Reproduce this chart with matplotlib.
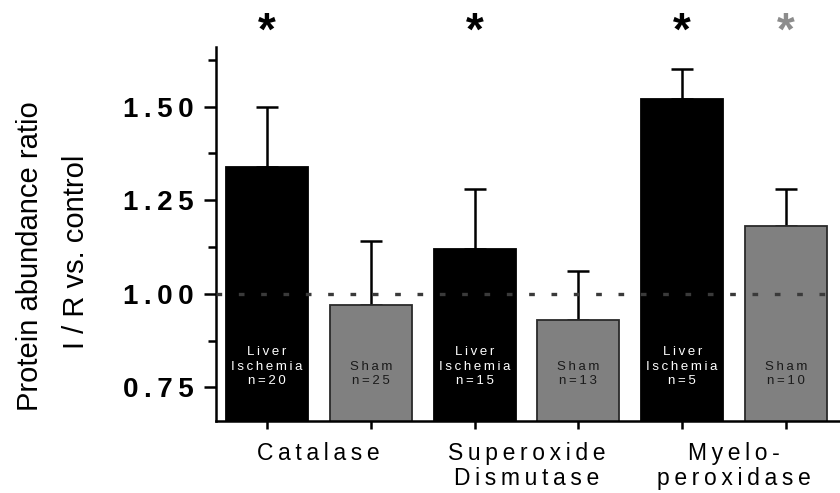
import numpy as np
import matplotlib.pyplot as plt

plt.rcParams['font.family'] = ['Liberation Sans', 'DejaVu Sans']

# bar order: Catalase LI, Catalase Sham, SOD LI, SOD Sham, MPO LI, MPO Sham
groups = ['Catalase', 'Superoxide\nDismutase', 'Myelo-\nperoxidase']
means = [1.34, 0.97, 1.12, 0.93, 1.52, 1.18]
sems = [0.16, 0.17, 0.16, 0.13, 0.08, 0.10]
bar_labels = ['Liver\nIschemia\nn=20', 'Sham\nn=25',
              'Liver\nIschemia\nn=15', 'Sham\nn=13',
              'Liver\nIschemia\nn=5', 'Sham\nn=10']
star_shown = [True, False, True, False, True, True]

TS = '\u2009'  # thin space for letter spacing


def spaced(s):
    return '\n'.join(TS.join(line) for line in s.split('\n'))


fig = plt.figure(figsize=(8.4, 4.93), dpi=100)
ax = fig.add_axes([0.257, 0.146, 0.743, 0.759])

x = np.arange(len(means))
colors = ['black' if i % 2 == 0 else '#808080' for i in x]
edges = ['black' if i % 2 == 0 else '#2a2a2a' for i in x]

ax.bar(x, means, width=0.79, color=colors, edgecolor=edges, linewidth=1.3,
       bottom=0, zorder=2)
ax.errorbar(x, means, yerr=[np.zeros(len(sems)), sems], fmt='none',
            ecolor='black', elinewidth=1.8, capsize=8, capthick=1.8, zorder=1)

ax.axhline(1.0, color='#3a3a3a', lw=2.4, dashes=(1.7, 5.0), zorder=3)

for i, lab in enumerate(bar_labels):
    tc = 'white' if i % 2 == 0 else '#1a1a1a'
    ax.text(x[i], 0.759, spaced(lab), ha='center', va='baseline', fontsize=9.5,
            color=tc, linespacing=1.25, zorder=4)

for i, s in enumerate(star_shown):
    if s:
        sc = 'black' if i % 2 == 0 else '#8c8c8c'
        ax.text(x[i], 1.038, '*', transform=ax.get_xaxis_transform(),
                ha='center', va='center', fontsize=33, fontweight='bold',
                color=sc, clip_on=False)

ax.set_xlim(-0.491, 5.52)
ax.set_ylim(0.66, 1.66)

yt = [0.75, 1.00, 1.25, 1.50]
ax.set_yticks(yt)
ax.set_yticklabels([TS.join(f'{v:.2f}') for v in yt], fontsize=20,
                   fontweight='bold')
ax.set_yticks([0.875, 1.125, 1.375, 1.625], minor=True)
ax.tick_params(axis='y', which='major', length=9, width=1.8, pad=7)
ax.tick_params(axis='y', which='minor', length=6, width=1.8)

ax.set_xticks(x)
ax.set_xticklabels([])
ax.tick_params(axis='x', length=6, width=1.8)

for sp in ['top', 'right']:
    ax.spines[sp].set_visible(False)
for sp in ['left', 'bottom']:
    ax.spines[sp].set_linewidth(1.8)

for k, g in enumerate(groups):
    ax.text(2 * k + 0.5, -0.055, spaced(g), transform=ax.get_xaxis_transform(),
            ha='center', va='top', fontsize=16.5, linespacing=1.15)

fig.text(0.036, 0.48, 'Protein abundance ratio', rotation=90, ha='center',
         va='center', fontsize=21)
fig.text(0.09, 0.49, 'I / R vs. control', rotation=90, ha='center',
         va='center', fontsize=21)

fig.savefig('out.png', dpi=100)
